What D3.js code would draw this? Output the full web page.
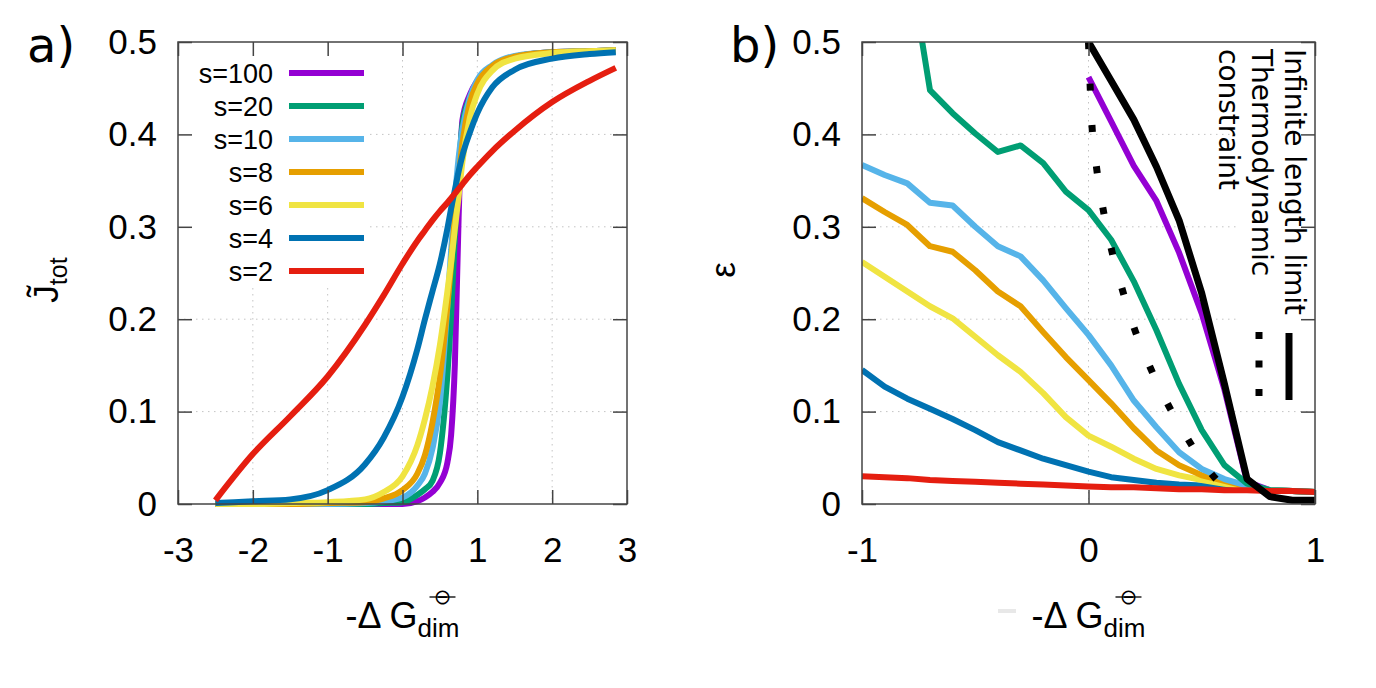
<!DOCTYPE html>
<html>
<head>
<meta charset="utf-8">
<script src="https://cdn.jsdelivr.net/npm/d3@7"></script>
<style>
  body { margin: 0; background: #fff; }
</style>
</head>
<body>
<svg id="chart" width="1376" height="688" font-family="Liberation Sans, Arial, sans-serif"></svg>
<script>
// ---- panel a : normalised total flux vs -dG ----
const xA = [-2.5, -2, -1.5, -1, -0.5, -0.25, 0, 0.2, 0.3, 0.4, 0.5, 0.6, 0.65, 0.7, 0.75, 0.8, 0.9, 1.0, 1.2, 1.5, 2.0, 2.5, 2.85];
const jS100 = [0, 0, 0, 0, 0, 0, 0, 0.003, 0.007, 0.013, 0.023, 0.045, 0.075, 0.152, 0.31, 0.415, 0.443, 0.458, 0.474, 0.484, 0.489, 0.49, 0.491];
const jS20  = [0, 0, 0, 0, 0, 0.001, 0.002, 0.01, 0.016, 0.025, 0.055, 0.14, 0.205, 0.29, 0.36, 0.41, 0.44, 0.456, 0.474, 0.484, 0.489, 0.49, 0.491];
const jS10  = [0, 0, 0, 0, 0.001, 0.003, 0.007, 0.02, 0.033, 0.06, 0.11, 0.215, 0.275, 0.33, 0.375, 0.405, 0.44, 0.459, 0.475, 0.485, 0.489, 0.49, 0.491];
const jS8   = [0, 0, 0, 0.001, 0.002, 0.006, 0.015, 0.033, 0.053, 0.088, 0.138, 0.214, 0.26, 0.31, 0.352, 0.39, 0.434, 0.455, 0.474, 0.484, 0.489, 0.49, 0.491];
const jS6   = [0, 0, 0.001, 0.002, 0.005, 0.013, 0.03, 0.064, 0.092, 0.127, 0.172, 0.23, 0.262, 0.298, 0.333, 0.37, 0.418, 0.444, 0.469, 0.482, 0.488, 0.49, 0.491];
const jS4   = [0.001, 0.003, 0.005, 0.015, 0.043, 0.072, 0.116, 0.168, 0.2, 0.23, 0.26, 0.298, 0.32, 0.34, 0.36, 0.377, 0.402, 0.423, 0.451, 0.47, 0.482, 0.487, 0.489];
const jS2   = [0.004, 0.054, 0.095, 0.138, 0.194, 0.226, 0.26, 0.285, 0.296, 0.307, 0.317, 0.326, 0.331, 0.336, 0.341, 0.346, 0.356, 0.365, 0.382, 0.404, 0.435, 0.458, 0.472];

const keyLabels = ["s=100", "s=20", "s=10", "s=8", "s=6", "s=4", "s=2"];
const seriesColors = ["#9400d3", "#009e73", "#56b4e9", "#e69f00", "#f0e442", "#0072b2", "#e51e10"];

// ---- panel b : error vs -dG ----
const xB = [-1, -0.9, -0.8, -0.7, -0.6, -0.5, -0.4, -0.3, -0.2, -0.1, 0, 0.1, 0.2, 0.3, 0.4, 0.5, 0.6, 0.7, 0.8, 0.9, 1.0];
const eS20 = [0.95, 0.75, 0.60, 0.448, 0.423, 0.401, 0.381, 0.388, 0.369, 0.338, 0.318, 0.286, 0.241, 0.188, 0.130, 0.080, 0.042, 0.022, 0.015, 0.014, 0.013];
const eS10 = [0.367, 0.356, 0.347, 0.326, 0.323, 0.300, 0.279, 0.268, 0.242, 0.212, 0.183, 0.150, 0.112, 0.083, 0.056, 0.038, 0.027, 0.020, 0.015, 0.014, 0.013];
const eS8  = [0.331, 0.316, 0.302, 0.279, 0.273, 0.253, 0.230, 0.214, 0.186, 0.159, 0.134, 0.109, 0.082, 0.058, 0.042, 0.031, 0.025, 0.019, 0.015, 0.014, 0.013];
const eS6  = [0.262, 0.246, 0.230, 0.214, 0.201, 0.181, 0.161, 0.143, 0.120, 0.094, 0.074, 0.062, 0.049, 0.038, 0.031, 0.026, 0.022, 0.019, 0.015, 0.014, 0.013];
const eS4  = [0.145, 0.127, 0.114, 0.103, 0.092, 0.080, 0.067, 0.058, 0.049, 0.042, 0.035, 0.029, 0.026, 0.023, 0.021, 0.020, 0.019, 0.018, 0.015, 0.014, 0.013];
const eS2  = [0.030, 0.029, 0.028, 0.026, 0.025, 0.024, 0.023, 0.022, 0.021, 0.020, 0.019, 0.018, 0.018, 0.017, 0.016, 0.016, 0.015, 0.015, 0.014, 0.014, 0.013];
const xB100 = [0, 0.1, 0.2, 0.3, 0.4, 0.5, 0.6, 0.7, 0.8, 0.9, 1.0];
const eS100 = [0.462, 0.414, 0.366, 0.328, 0.272, 0.206, 0.124, 0.024, 0.015, 0.014, 0.013];
const eInf  = [0.5, 0.458, 0.416, 0.365, 0.307, 0.228, 0.130, 0.027, 0.008, 0.004, 0.004];
const xThermo = [0, 0.015, 0.034, 0.061, 0.098, 0.146, 0.198, 0.265, 0.344, 0.432, 0.535, 0.663];
const eThermo = [0.5, 0.411, 0.367, 0.324, 0.279, 0.235, 0.193, 0.152, 0.111, 0.073, 0.035, 0.004];

const yTicks = [0, 0.1, 0.2, 0.3, 0.4, 0.5];
const xTicksA = [-3, -2, -1, 0, 1, 2, 3];
const xTicksB = [-1, 0, 1];

const svg = d3.select("#chart");
const fmt = d => String(d);

const boxA = { l: 178, r: 627, t: 42, b: 504 };
const boxB = { l: 862, r: 1315, t: 42, b: 504 };

function makeScales(box, xDomain) {
  const x = d3.scaleLinear().domain(xDomain).range([box.l, box.r]);
  const y = d3.scaleLinear().domain([0, 0.5]).range([box.b, box.t]);
  return { x, y };
}

function drawGrid(s, box, gx, gy) {
  const g = svg.append("g").attr("stroke", "#c4c4c4").attr("stroke-width", 1).attr("stroke-dasharray", "1.5,4.5");
  g.selectAll("line.gx").data(gx).join("line").attr("class", "gx")
    .attr("x1", d => s.x(d)).attr("x2", d => s.x(d)).attr("y1", box.t).attr("y2", box.b);
  g.selectAll("line.gy").data(gy).join("line").attr("class", "gy")
    .attr("y1", d => s.y(d)).attr("y2", d => s.y(d)).attr("x1", box.l).attr("x2", box.r);
}

function drawAxes(s, box, xt) {
  const style = sel => {
    sel.attr("font-family", null).attr("font-size", null);
    sel.select(".domain").remove();
    sel.selectAll(".tick line").attr("stroke", "#444").attr("stroke-width", 1.5);
    sel.selectAll(".tick text").attr("font-size", 35).attr("fill", "#000");
  };
  svg.append("g").attr("transform", `translate(${box.l},0)`)
    .call(d3.axisLeft(s.y).tickValues(yTicks).tickSize(-14).tickPadding(21).tickFormat(fmt)).call(style);
  svg.append("g").attr("transform", `translate(${box.r},0)`)
    .call(d3.axisRight(s.y).tickValues(yTicks).tickSize(-14).tickFormat("")).call(style);
  svg.append("g").attr("transform", `translate(0,${box.b})`)
    .call(d3.axisBottom(s.x).tickValues(xt).tickSize(-14).tickPadding(33).tickFormat(fmt)).call(style);
  svg.append("g").attr("transform", `translate(0,${box.t})`)
    .call(d3.axisTop(s.x).tickValues(xt).tickSize(-14).tickFormat("")).call(style);
  svg.append("rect").attr("x", box.l).attr("y", box.t)
    .attr("width", box.r - box.l).attr("height", box.b - box.t)
    .attr("fill", "none").attr("stroke", "#444").attr("stroke-width", 1.5);
}

function xTitle(cx) {
  const t = svg.append("text").attr("y", 628).attr("font-size", 36).attr("fill", "#000");
  t.append("tspan").text("-Δ G");
  t.append("tspan").attr("font-size", 26).attr("dy", 9).text("dim");
  const w = t.node().getComputedTextLength();
  t.attr("x", cx - w / 2);
  const px = cx + w / 2 - 17, py = 597;
  svg.append("text").attr("x", px).attr("y", py + 7).attr("text-anchor", "middle")
    .attr("font-family", "DejaVu Sans").attr("font-size", 21).text("⊖");
  svg.append("line").attr("x1", px - 13).attr("x2", px + 13).attr("y1", py).attr("y2", py)
    .attr("stroke", "#000").attr("stroke-width", 1.3);
}

// ================= panel a =================
const sA = makeScales(boxA, [-3, 3]);
drawGrid(sA, boxA, [-2, -1, 0, 1, 2], [0.1, 0.2, 0.3, 0.4]);
// opaque key box
svg.append("rect").attr("x", boxA.l).attr("y", boxA.t).attr("width", 192).attr("height", 245).attr("fill", "#fff");

const seriesA = [jS100, jS20, jS10, jS8, jS6, jS4, jS2];
const lineA = d3.line().x((d, i) => sA.x(xA[i])).y(d => sA.y(d)).curve(d3.curveMonotoneX);
svg.append("g").selectAll("path").data(seriesA).join("path")
  .attr("d", lineA).attr("fill", "none")
  .attr("stroke", (d, i) => seriesColors[i]).attr("stroke-width", 6)
  .attr("stroke-linejoin", "round");

const keyA = svg.append("g");
keyLabels.forEach((lab, i) => {
  const ky = 73 + i * 33;
  keyA.append("text").attr("x", 273).attr("y", ky + 10).attr("text-anchor", "end")
    .attr("font-size", 27).text(lab);
  keyA.append("line").attr("x1", 289).attr("x2", 364).attr("y1", ky).attr("y2", ky)
    .attr("stroke", seriesColors[i]).attr("stroke-width", 6);
});

drawAxes(sA, boxA, xTicksA);
xTitle((boxA.l + boxA.r) / 2);

svg.append("text").attr("transform", "translate(58,280) rotate(-90)")
  .attr("text-anchor", "middle").attr("font-size", 35)
  .call(t => {
    t.append("tspan").text("J\u0303");
    t.append("tspan").attr("font-size", 25).attr("dy", 9).text("tot");
  });

svg.append("text").attr("x", 27).attr("y", 62).attr("font-family", "DejaVu Sans")
  .attr("font-size", 48).text("a)");

// ================= panel b =================
const sB = makeScales(boxB, [-1, 1]);
drawGrid(sB, boxB, [0], [0.1, 0.2, 0.3, 0.4]);
svg.append("rect").attr("x", 1237).attr("y", boxB.t).attr("width", boxB.r - 1237).attr("height", 363).attr("fill", "#fff");

svg.append("clipPath").attr("id", "clipB").append("rect")
  .attr("x", boxB.l).attr("y", boxB.t).attr("width", boxB.r - boxB.l).attr("height", boxB.b - boxB.t);

const gB = svg.append("g").attr("clip-path", "url(#clipB)");

const line100 = d3.line().x((d, i) => sB.x(xB100[i])).y(d => sB.y(d));
gB.append("path").attr("d", line100(eS100)).attr("fill", "none")
  .attr("stroke", "#9400d3").attr("stroke-width", 6).attr("stroke-linejoin", "round");

const lineB = d3.line().x((d, i) => sB.x(xB[i])).y(d => sB.y(d));
const seriesB = [eS4, eS6, eS8, eS10, eS20, eS2];
const colorsB = ["#0072b2", "#f0e442", "#e69f00", "#56b4e9", "#009e73", "#e51e10"];
gB.selectAll("path.s").data(seriesB).join("path").attr("class", "s")
  .attr("d", lineB).attr("fill", "none")
  .attr("stroke", (d, i) => colorsB[i]).attr("stroke-width", 6).attr("stroke-linejoin", "round");

const lineTh = d3.line().x((d, i) => sB.x(xThermo[i])).y(d => sB.y(d)).curve(d3.curveMonotoneX);
gB.append("path").attr("d", lineTh(eThermo)).attr("fill", "none")
  .attr("stroke", "#000").attr("stroke-width", 7).attr("stroke-dasharray", "7,34.5");

gB.append("path").attr("d", line100(eInf)).attr("fill", "none")
  .attr("stroke", "#000").attr("stroke-width", 7).attr("stroke-linejoin", "round");

// rotated key
const keyB = svg.append("g").attr("font-family", "DejaVu Sans").attr("font-size", 28).attr("fill", "#000");
keyB.append("text").attr("transform", "translate(1285,49) rotate(90)").text("Infinite length limit");
keyB.append("text").attr("transform", "translate(1252,49) rotate(90)").text("Thermodynamic");
keyB.append("text").attr("transform", "translate(1219,49) rotate(90)").text("constraint");
keyB.append("line").attr("x1", 1289).attr("x2", 1289).attr("y1", 333).attr("y2", 400)
  .attr("stroke", "#000").attr("stroke-width", 7);
keyB.append("line").attr("x1", 1259).attr("x2", 1259).attr("y1", 332).attr("y2", 400)
  .attr("stroke", "#000").attr("stroke-width", 7).attr("stroke-dasharray", "7,21.5");

drawAxes(sB, boxB, xTicksB);
xTitle((boxB.l + boxB.r) / 2);
svg.append("line").attr("x1", 998).attr("x2", 1016).attr("y1", 611).attr("y2", 611)
  .attr("stroke", "#e8e8e8").attr("stroke-width", 4);

svg.append("text").attr("transform", "translate(735,270) rotate(-90)")
  .attr("text-anchor", "middle").attr("font-size", 35).text("ε");

svg.append("text").attr("x", 730).attr("y", 62).attr("font-family", "DejaVu Sans")
  .attr("font-size", 48).text("b)");
</script>
</body>
</html>
